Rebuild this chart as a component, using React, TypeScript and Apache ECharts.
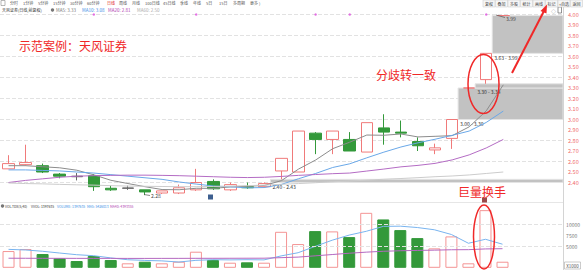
import React, { useEffect, useRef } from "react";
import * as echarts from "echarts";

const FONT = "'Noto Sans CJK SC', 'Noto Sans', sans-serif";

// ---------- data ----------
const categories = [
  "D01", "D02", "D03", "D04", "D05", "D06", "D07", "D08", "D09", "D10",
  "D11", "D12", "D13", "D14", "D15", "D16", "D17", "D18", "D19", "D20",
  "D21", "D22", "D23", "D24", "D25", "D26", "D27", "D28", "D29", "D30",
  "P1", "P2", "P3",
];

const opens = [2.53, 2.57, 2.56, 2.48, 2.46, 2.465, 2.345, 2.345, 2.33, 2.30, 2.30, 2.33, 2.41, 2.33, 2.36, 2.36, 2.51, 2.50, 2.87, 2.81, 2.81, 2.69, 2.92, 2.88, 2.79, 2.71, 2.82, 3.30, 3.38, 3.99];
const closes = [2.58, 2.59, 2.50, 2.46, 2.455, 2.36, 2.33, 2.348, 2.31, 2.32, 2.35, 2.40, 2.34, 2.38, 2.35, 2.39, 2.63, 2.89, 2.81, 2.89, 2.70, 2.97, 2.88, 2.87, 2.75, 2.73, 3.00, 3.30, 3.63, 3.99];
const lows = [2.53, 2.56, 2.49, 2.44, 2.42, 2.32, 2.32, 2.33, 2.28, 2.29, 2.29, 2.32, 2.33, 2.32, 2.34, 2.35, 2.43, 2.50, 2.67, 2.67, 2.70, 2.69, 2.76, 2.83, 2.70, 2.67, 2.72, 3.30, 3.34, 3.99];
const highs = [2.66, 2.76, 2.58, 2.49, 2.49, 2.48, 2.37, 2.37, 2.33, 2.32, 2.38, 2.53, 2.43, 2.40, 2.40, 2.40, 2.63, 2.89, 2.88, 2.89, 2.88, 2.97, 3.05, 2.99, 2.83, 2.77, 3.00, 3.30, 3.63, 3.99];
const dojiIdx = [4, 7];

const ma5 = [2.56, 2.56, 2.55, 2.54, 2.517, 2.473, 2.421, 2.39, 2.36, 2.333, 2.331, 2.345, 2.344, 2.358, 2.364, 2.372, 2.418, 2.528, 2.614, 2.722, 2.784, 2.852, 2.85, 2.862, 2.834, 2.84, 2.846, 2.93, 3.082, 3.33];
const ma10 = [2.52, 2.52, 2.515, 2.51, 2.50, 2.49, 2.475, 2.46, 2.445, 2.43, 2.405, 2.385, 2.367, 2.359, 2.349, 2.352, 2.382, 2.436, 2.486, 2.543, 2.578, 2.635, 2.689, 2.738, 2.778, 2.812, 2.849, 2.89, 2.972, 3.08];
const ma20 = [2.40, 2.42, 2.435, 2.45, 2.46, 2.465, 2.468, 2.47, 2.47, 2.468, 2.465, 2.46, 2.455, 2.45, 2.447, 2.45, 2.458, 2.468, 2.476, 2.484, 2.49, 2.509, 2.528, 2.549, 2.563, 2.582, 2.615, 2.663, 2.729, 2.81];
const ma60 = [2.395, 2.39, 2.387, 2.382, 2.378, 2.375, 2.37, 2.366, 2.364, 2.362, 2.36, 2.36, 2.362, 2.365, 2.37, 2.375, 2.383, 2.39, 2.398, 2.407, 2.414, 2.422, 2.431, 2.438, 2.446, 2.455, 2.462, 2.472, 2.486, 2.50];

// volume in units of 1000 shares
const volumes = [3850, 4310, 3165, 2180, 1560, 2706, 1790, 1030, 1400, 1030, 1400, 3700, 1790, 1170, 1260, 1170, 8280, 5460, 8440, 8370, 7060, 12640, 11120, 8670, 6830, 4470, 7220, 1030, 13260, 1397.635];
const volMa5 = [4240, 4100, 3800, 3400, 3013, 2784, 2280, 1853, 1697, 1591, 1330, 1712, 1864, 1818, 1864, 1818, 2734, 3468, 4922, 6344, 7522, 8394, 9526, 9572, 9264, 8746, 7662, 5644, 6562, 5426.013];
const volMa40 = [2200, 2190, 2180, 2175, 2170, 2170, 2165, 2160, 2160, 2165, 2170, 2180, 2185, 2190, 2200, 2210, 2330, 2460, 2750, 3050, 3350, 3600, 3800, 3920, 4000, 4060, 4150, 4170, 4340, 4393.355];

// gaps (缺口): start candle index, low, high
const gapStart = [15, 26, 27, 28];
const gapLow = [2.40, 3.00, 3.30, 3.63];
const gapHigh = [2.43, 3.30, 3.34, 3.99];

// event markers (pink dots)
const eventIdx = [5, 11, 18, 20, 28];

// axis ticks
const priceMin = 2.2;
const priceMax = 4.1;
const priceTick = 0.1;
const priceLabelRange = [2.4, 4.0];
const priceGridLines = [2.4, 2.6, 2.8, 3.0, 3.2, 3.4, 3.6, 3.8, 4.0];
const volMax = 13500;
const volTick = 2500;
const volLabels = [5000, 7500, 10000];
const volGridLines = [5000, 10000];

const UP = "#f07a7a";
const DOWN = "#33993a";
const DOJI = "#666";
const CANDLE_W = 12;
const RED = "#f02828";

function txt(text: string, x: number, y: number, fill: string, fontSize: number, extra: any = {}) {
  return {
    type: "text",
    x,
    y,
    silent: true,
    z: 100,
    style: {
      text,
      fill,
      fontSize,
      fontFamily: FONT,
      align: extra.align || "left",
      verticalAlign: "middle",
      textAlign: extra.align || "left",
      textVerticalAlign: "middle",
      fontWeight: extra.fontWeight || "normal",
    },
  };
}

export default function App() {
  const ref = useRef<HTMLDivElement>(null);

  useEffect(() => {
    document.body.style.margin = "0";
    const chart = echarts.init(ref.current!, null, { renderer: "svg" });

    const candleData = opens.map((o, i) => {
      const item: any = { value: [o, closes[i], lows[i], highs[i]] };
      if (dojiIdx.includes(i)) {
        item.itemStyle = { color: DOJI, color0: DOJI, borderColor: DOJI, borderColor0: DOJI };
      }
      return item;
    });

    const volData = volumes.map((v, i) => {
      const up = closes[i] >= opens[i];
      return {
        value: v,
        itemStyle: {
          color: up ? "#fff" : DOWN,
          borderColor: up ? "#f49494" : DOWN,
          borderWidth: 1,
        },
      };
    });

    const maLine = (name: string, data: number[], color: string, xi: number) => ({
      name,
      type: "line",
      xAxisIndex: xi,
      yAxisIndex: xi,
      data,
      symbol: "none",
      silent: true,
      z: 4,
      lineStyle: { color, width: 1 },
    });

    const toolbarLeft: [string, number, string?][] = [
      ["分时", 10], ["1分钟", 23], ["5分钟", 38], ["15分钟", 53], ["30分钟", 70], ["60分钟", 87],
      ["日线", 107, "#e02020"], ["周线", 119], ["月线", 132], ["100日线", 145], ["45日线", 163],
      ["季线", 180], ["年线", 193], ["5日", 206], ["15日", 219], ["多周期", 233], ["更多 )", 250],
    ];
    const toolbarRight = ["复权", "叠加", "多股", "统计", "画线", "标记", "+自选", "返回"];

    const graphics: any[] = [];
    // left toolbar
    graphics.push({ type: "rect", shape: { x: 1, y: 0.5, width: 4, height: 5 }, style: { fill: "none", stroke: "#888", lineWidth: 0.6 }, silent: true });
    toolbarLeft.forEach(([t, x, c]) => graphics.push(txt(t, x, 3, c || "#555", 4)));
    // right toolbar buttons
    toolbarRight.forEach((t, k) => {
      const x = 483 + k * 12.5;
      graphics.push({ type: "rect", shape: { x, y: 0, width: 12, height: 7 }, style: { fill: "#f6f6f6", stroke: "#d0d0d0", lineWidth: 0.6 }, silent: true, z: 99 });
      graphics.push(txt(t, x + 6, 3.5, "#444", 4, { align: "center" }));
    });
    // price header
    graphics.push(txt("天风证券(日线,前复权)", 2, 10, "#333", 4));
    graphics.push({ type: "circle", shape: { cx: 52.5, cy: 10, r: 1.7 }, style: { fill: "#777" }, silent: true });
    graphics.push(txt(`MA5: ${ma5[ma5.length - 1].toFixed(2)}`, 56, 10, "#777", 4.5));
    graphics.push(txt(`MA10: ${ma10[ma10.length - 1].toFixed(2)}`, 82, 10, "#3a8ee6", 4.5));
    graphics.push(txt(`MA20: ${ma20[ma20.length - 1].toFixed(2)}`, 108, 10, "#b040b0", 4.5));
    graphics.push(txt(`MA60: ${ma60[ma60.length - 1].toFixed(2)}`, 137, 10, "#aaa", 4.5));
    // volume header
    const lastVol = Math.round(volumes[volumes.length - 1] * 1000);
    graphics.push({ type: "circle", shape: { cx: 2.5, cy: 206, r: 1.7 }, style: { fill: "#777" }, silent: true });
    graphics.push(txt("VOL-TDX(5,40)", 5, 206, "#333", 3.4));
    graphics.push(txt(`VVOL: ${lastVol}`, 31, 206, "#333", 3.4));
    graphics.push(txt(`VOLUME: ${lastVol}`, 57, 206, "#3a8ee6", 3.4));
    graphics.push(txt(`MA5: ${Math.round(volMa5[volMa5.length - 1] * 1000)}`, 87, 206, "#3a8ee6", 3.4));
    graphics.push(txt(`MA40: ${Math.round(volMa40[volMa40.length - 1] * 1000)}`, 110, 206, "#b040b0", 3.4));
    // frame lines
    graphics.push({ type: "line", shape: { x1: 563.5, y1: 7, x2: 563.5, y2: 270 }, style: { stroke: "#d4d4d4", lineWidth: 1 }, silent: true, z: 50 });
    graphics.push({ type: "line", shape: { x1: 0, y1: 202.5, x2: 563, y2: 202.5 }, style: { stroke: "#e6e6e6", lineWidth: 1 }, silent: true, z: 50 });
    // top right small icons
    graphics.push(txt("◇", 551, 10, "#888", 5));
    graphics.push({ type: "rect", shape: { x: 558, y: 7, width: 3.5, height: 6 }, style: { fill: "#fff", stroke: "#666", lineWidth: 0.7 }, silent: true });
    // high / low marks
    graphics.push({ type: "line", shape: { x1: 496, y1: 15, x2: 505, y2: 17.5 }, style: { stroke: "#555", lineWidth: 0.7 }, silent: true, z: 60 });
    graphics.push(txt(highs[29].toFixed(2), 506, 18, "#444", 5));
    graphics.push({ type: "line", shape: { x1: 144, y1: 194.5, x2: 150, y2: 195.5 }, style: { stroke: "#555", lineWidth: 0.7 }, silent: true, z: 60 });
    graphics.push(txt(lows[8].toFixed(2), 151, 195.5, "#444", 5));
    // small icons
    graphics.push({ type: "rect", shape: { x: 208, y: 194.5, width: 5, height: 5 }, style: { fill: "#3d5f8f" }, silent: true, z: 60 });
    graphics.push({ type: "rect", shape: { x: 482, y: 197.5, width: 5, height: 5 }, style: { fill: "#9a4a4a" }, silent: true, z: 60 });
    // x1000 box
    graphics.push({ type: "rect", shape: { x: 564.5, y: 262, width: 16, height: 7 }, style: { fill: "#fff", stroke: "#aaa", lineWidth: 0.6 }, silent: true, z: 60 });
    graphics.push(txt("X1000", 572.5, 265.5, "#555", 4.5, { align: "center" }));
    // red annotations
    graphics.push(txt("示范案例：天风证券", 19, 45, RED, 12));
    graphics.push(txt("分歧转一致", 376, 74, RED, 12));
    graphics.push(txt("巨量换手", 458, 191, RED, 12));
    graphics.push({ type: "ellipse", shape: { cx: 483.5, cy: 84, rx: 15.5, ry: 29.5 }, style: { fill: "none", stroke: RED, lineWidth: 1.5 }, silent: true, z: 80 });
    graphics.push({ type: "ellipse", shape: { cx: 484, cy: 237, rx: 10.5, ry: 32 }, style: { fill: "none", stroke: RED, lineWidth: 1.5 }, silent: true, z: 80 });
    graphics.push({ type: "line", shape: { x1: 512, y1: 73, x2: 544.5, y2: 10 }, style: { stroke: RED, lineWidth: 2 }, silent: true, z: 120 });
    graphics.push({ type: "polygon", shape: { points: [[547, 4.5], [540.5, 11], [546.5, 13.5]] }, style: { fill: RED }, silent: true, z: 120 });

    const option: any = {
      animation: false,
      backgroundColor: "#fff",
      textStyle: { fontFamily: FONT },
      grid: [
        { left: -2, right: 20, top: 4, height: 199.5 },
        { left: -2, right: 20, top: 209.1, height: 58.7 },
      ],
      xAxis: [
        { type: "category", gridIndex: 0, data: categories, show: false },
        { type: "category", gridIndex: 1, data: categories, show: false },
      ],
      yAxis: [
        {
          type: "value",
          gridIndex: 0,
          position: "right",
          min: priceMin,
          max: priceMax,
          interval: priceTick,
          splitLine: { show: false },
          axisLine: { show: false },
          axisTick: { show: false },
          axisLabel: {
            color: "#f06a6a",
            fontSize: 5.5,
            fontFamily: FONT,
            margin: 5,
            formatter: (v: number) =>
              v >= priceLabelRange[0] - 0.001 && v <= priceLabelRange[1] + 0.001 ? v.toFixed(2) : "",
          },
        },
        {
          type: "value",
          gridIndex: 1,
          position: "right",
          min: 0,
          max: volMax,
          interval: volTick,
          splitLine: { show: false },
          axisLine: { show: false },
          axisTick: { show: false },
          axisLabel: {
            color: "#777",
            fontSize: 5,
            fontFamily: FONT,
            margin: 4,
            formatter: (v: number) => (volLabels.includes(Math.round(v)) ? String(Math.round(v)) : ""),
          },
        },
      ],
      series: [
        {
          type: "custom",
          xAxisIndex: 0,
          yAxisIndex: 0,
          z: 1,
          silent: true,
          data: gapStart.map((s, k) => [s, gapLow[k], gapHigh[k]]),
          encode: { x: 0, y: [1, 2] },
          renderItem: (params: any, api: any) => {
            const i = api.value(0);
            const lo = api.value(1);
            const hi = api.value(2);
            const pl = api.coord([i, lo]);
            const ph = api.coord([i, hi]);
            const cs = params.coordSys;
            const x0 = pl[0] + CANDLE_W / 2;
            const x1 = cs.x + cs.width;
            return {
              type: "group",
              children: [
                {
                  type: "rect",
                  shape: { x: x0, y: ph[1], width: x1 - x0, height: pl[1] - ph[1] },
                  style: { fill: "#c2c2c2", stroke: "#e4e4e4", lineWidth: 1 },
                },
                {
                  type: "text",
                  x: x0 + 2,
                  y: pl[1] + 1.2,
                  style: {
                    text: `${lo.toFixed(2)} - ${hi.toFixed(2)}`,
                    fill: "#333",
                    fontSize: 5,
                    fontFamily: FONT,
                    align: "left",
                    verticalAlign: "top",
                  },
                },
              ],
            };
          },
        },
        {
          type: "candlestick",
          xAxisIndex: 0,
          yAxisIndex: 0,
          z: 3,
          barWidth: CANDLE_W,
          silent: true,
          data: candleData,
          itemStyle: {
            color: "#fff",
            color0: DOWN,
            borderColor: UP,
            borderColor0: DOWN,
            borderWidth: 1,
          },
          markLine: {
            silent: true,
            symbol: ["none", "none"],
            label: { show: false },
            lineStyle: { type: "dashed", color: "#e2e2e2", width: 1 },
            z: 0,
            data: priceGridLines.map((v) => ({ yAxis: v })),
          },
        },
        maLine("MA5", ma5, "#8c8c8c", 0),
        maLine("MA10", ma10, "#6aa8e8", 0),
        maLine("MA20", ma20, "#b46cc4", 0),
        maLine("MA60", ma60, "#cccccc", 0),
        {
          type: "scatter",
          xAxisIndex: 0,
          yAxisIndex: 0,
          symbolSize: 2.5,
          silent: true,
          itemStyle: { color: "#e050e0" },
          data: eventIdx.map((i) => [i, priceLabelRange[1]]),
        },
        {
          type: "bar",
          xAxisIndex: 1,
          yAxisIndex: 1,
          barWidth: CANDLE_W,
          silent: true,
          data: volData,
          markLine: {
            silent: true,
            symbol: ["none", "none"],
            label: { show: false },
            lineStyle: { type: "dashed", color: "#e2e2e2", width: 1 },
            data: volGridLines.map((v) => ({ yAxis: v })),
          },
        },
        maLine("VMA5", volMa5, "#79b4ef", 1),
        maLine("VMA40", volMa40, "#b468c0", 1),
      ],
      graphic: graphics,
    };

    chart.setOption(option);
    return () => chart.dispose();
  }, []);

  return <div ref={ref} style={{ width: 583, height: 270, background: "#fff" }} />;
}
